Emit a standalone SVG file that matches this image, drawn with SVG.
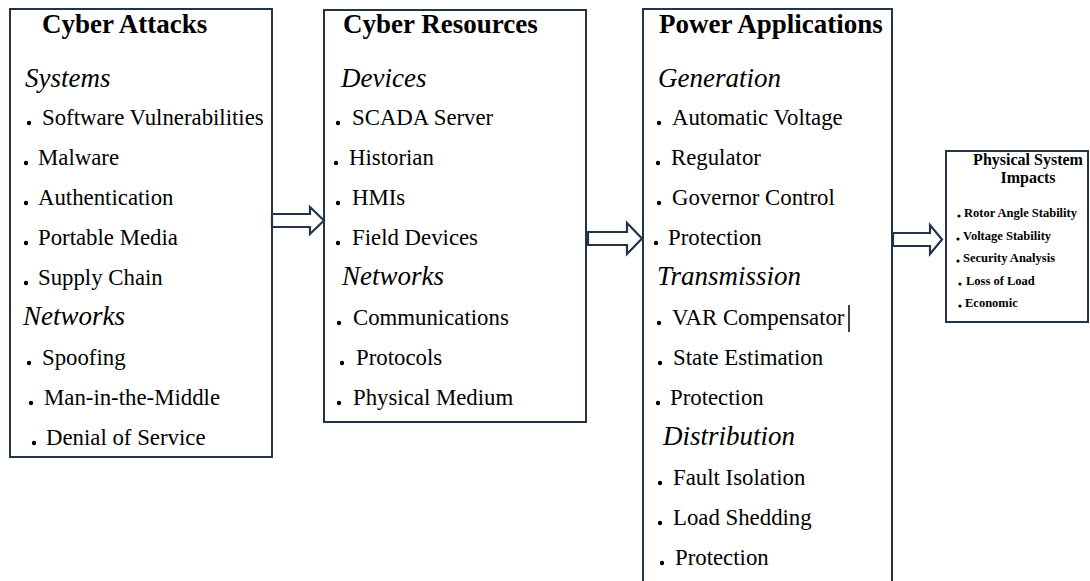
<svg xmlns="http://www.w3.org/2000/svg" width="1090" height="581" viewBox="0 0 1090 581">
  <style>
    .box { fill: #ffffff; stroke: #243447; stroke-width: 2; }
    .arrow { fill: #ffffff; stroke: #243447; stroke-width: 2.2; stroke-linejoin: miter; }
    .title { font-family: "Liberation Serif", "Times New Roman", serif; font-weight: bold; font-size: 27px; fill: #000; }
    .head { font-family: "Liberation Serif", "Times New Roman", serif; font-style: italic; font-size: 27px; fill: #000; }
    .item { font-family: "Liberation Serif", "Times New Roman", serif; font-size: 22.8px; fill: #000; }
    .stitle { font-family: "Liberation Serif", "Times New Roman", serif; font-weight: bold; font-size: 16px; fill: #000; }
    .sitem { font-family: "Liberation Serif", "Times New Roman", serif; font-weight: bold; font-size: 12.5px; fill: #000; }
    .dot { fill: #000; }
  </style>
  <rect width="1090" height="581" fill="#ffffff"/>

  <!-- Cyber Attacks -->
  <g id="cyber-attacks">
    <rect class="box" x="10" y="9" width="262" height="448"/>
    <text class="title" x="42" y="33">Cyber Attacks</text>
    <text class="head" x="25" y="87">Systems</text>
    <circle class="dot" cx="29" cy="123" r="2.2"/><text class="item" x="42" y="125">Software Vulnerabilities</text>
    <circle class="dot" cx="26" cy="163" r="2.2"/><text class="item" x="38" y="165">Malware</text>
    <circle class="dot" cx="26" cy="203" r="2.2"/><text class="item" x="38" y="205">Authentication</text>
    <circle class="dot" cx="26" cy="243" r="2.2"/><text class="item" x="38" y="245">Portable Media</text>
    <circle class="dot" cx="26" cy="283" r="2.2"/><text class="item" x="38" y="285">Supply Chain</text>
    <text class="head" x="23" y="325">Networks</text>
    <circle class="dot" cx="29" cy="363" r="2.2"/><text class="item" x="42" y="365">Spoofing</text>
    <circle class="dot" cx="31" cy="403" r="2.2"/><text class="item" x="44" y="405">Man-in-the-Middle</text>
    <circle class="dot" cx="34" cy="443" r="2.2"/><text class="item" x="46" y="445">Denial of Service</text>
  </g>

  <!-- Cyber Resources -->
  <g id="cyber-resources">
    <rect class="box" x="324" y="10" width="262" height="412"/>
    <text class="title" x="343" y="33">Cyber Resources</text>
    <text class="head" x="341" y="87">Devices</text>
    <circle class="dot" cx="338" cy="123" r="2.2"/><text class="item" x="352" y="125">SCADA Server</text>
    <circle class="dot" cx="336" cy="163" r="2.2"/><text class="item" x="349" y="165">Historian</text>
    <circle class="dot" cx="338" cy="203" r="2.2"/><text class="item" x="352" y="205">HMIs</text>
    <circle class="dot" cx="338" cy="243" r="2.2"/><text class="item" x="352" y="245">Field Devices</text>
    <text class="head" x="342" y="285">Networks</text>
    <circle class="dot" cx="339" cy="323" r="2.2"/><text class="item" x="353" y="325">Communications</text>
    <circle class="dot" cx="342" cy="363" r="2.2"/><text class="item" x="356" y="365">Protocols</text>
    <circle class="dot" cx="339" cy="403" r="2.2"/><text class="item" x="353" y="405">Physical Medium</text>
  </g>

  <!-- Power Applications (box runs past the bottom edge) -->
  <g id="power-applications">
    <rect class="box" x="643" y="9" width="249" height="590"/>
    <text class="title" x="659" y="33">Power Applications</text>
    <text class="head" x="658" y="87">Generation</text>
    <circle class="dot" cx="659" cy="123" r="2.2"/><text class="item" x="672" y="125">Automatic Voltage</text>
    <circle class="dot" cx="658" cy="163" r="2.2"/><text class="item" x="671" y="165">Regulator</text>
    <circle class="dot" cx="659" cy="203" r="2.2"/><text class="item" x="672" y="205">Governor Control</text>
    <circle class="dot" cx="656" cy="243" r="2.2"/><text class="item" x="668" y="245">Protection</text>
    <text class="head" x="657" y="285">Transmission</text>
    <circle class="dot" cx="659" cy="323" r="2.2"/><text class="item" x="672" y="325">VAR Compensator</text>
    <line x1="849" y1="305" x2="849" y2="332" stroke="#000" stroke-width="1.5"/>
    <circle class="dot" cx="660" cy="363" r="2.2"/><text class="item" x="673" y="365">State Estimation</text>
    <circle class="dot" cx="658" cy="403" r="2.2"/><text class="item" x="670" y="405">Protection</text>
    <text class="head" x="663" y="445">Distribution</text>
    <circle class="dot" cx="660" cy="483" r="2.2"/><text class="item" x="673" y="485">Fault Isolation</text>
    <circle class="dot" cx="660" cy="523" r="2.2"/><text class="item" x="673" y="525">Load Shedding</text>
    <circle class="dot" cx="662" cy="563" r="2.2"/><text class="item" x="675" y="565">Protection</text>
  </g>

  <!-- Physical System Impacts -->
  <g id="physical-impacts">
    <rect class="box" x="946" y="151" width="142" height="171" stroke-width="1.6"/>
    <text class="stitle" x="1028" y="165" text-anchor="middle">Physical System</text>
    <text class="stitle" x="1028" y="183" text-anchor="middle">Impacts</text>
    <circle class="dot" cx="959" cy="216" r="1.6"/><text class="sitem" x="964" y="217">Rotor Angle  Stability</text>
    <circle class="dot" cx="958" cy="239" r="1.6"/><text class="sitem" x="963" y="240">Voltage Stability</text>
    <circle class="dot" cx="958" cy="261" r="1.6"/><text class="sitem" x="963" y="262">Security Analysis</text>
    <circle class="dot" cx="960" cy="284" r="1.6"/><text class="sitem" x="966" y="285">Loss of Load</text>
    <circle class="dot" cx="960" cy="306" r="1.6"/><text class="sitem" x="965" y="307">Economic</text>
  </g>

  <!-- block arrows between stages -->
  <g id="connectors">
    <path class="arrow" d="M272,214 H310 V207 L324,220.5 L310,234 V227 H272 Z"/>
    <path class="arrow" d="M588,232 H627 V223 L642,238.5 L627,254 V245 H588 Z"/>
    <path class="arrow" d="M893,233 H930 V225 L942,239.5 L930,254 V246 H893 Z"/>
  </g>
</svg>
